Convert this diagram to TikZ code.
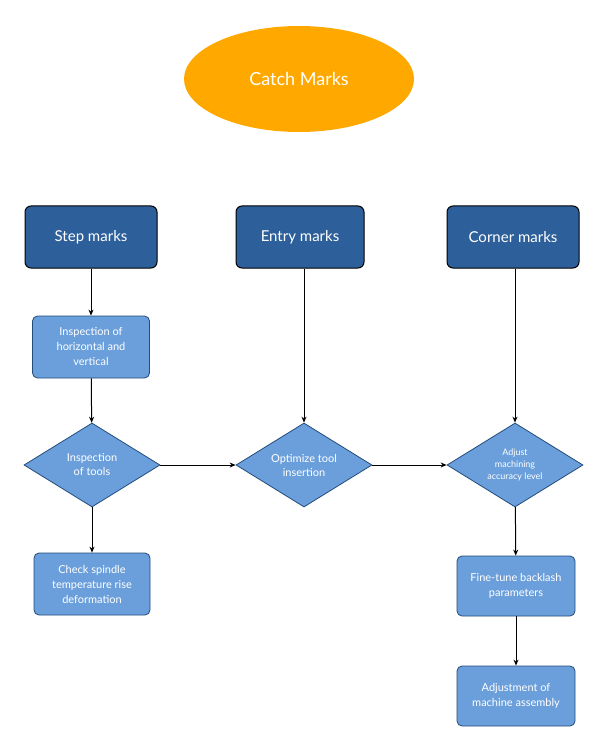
\documentclass[tikz,border=0pt]{standalone}
\usepackage{fontspec}
\setmainfont{Lato}
\usetikzlibrary{shapes.geometric,arrows.meta}
\definecolor{dk}{HTML}{2D5F9A}
\definecolor{lt}{HTML}{6A9FDC}
\definecolor{org}{HTML}{FFA800}
\begin{document}
\begin{tikzpicture}[x=1pt,y=-1pt,
 top/.style={draw=black,line width=1pt,fill=dk,rounded corners=6pt,minimum width=132pt,minimum height=62pt,text=white,font=\fontsize{15}{18}\selectfont},
 box/.style={draw=dk!80!black,line width=0.8pt,fill=lt,rounded corners=5pt,minimum width=117pt,minimum height=62pt,text=white,align=center,font=\fontsize{11}{15}\selectfont},
 dia/.style={diamond,draw=dk!80!black,line width=0.8pt,fill=lt,aspect=1.62,minimum width=136pt,minimum height=84pt,inner sep=0pt,text=white,align=center,font=\fontsize{11}{14}\selectfont},
 arr/.style={-{Stealth[length=6pt,width=5pt]},line width=1pt}]
\useasboundingbox[fill=white] (0,0) rectangle (607,751);
\node[ellipse,fill=org,minimum width=230pt,minimum height=106pt,text=white,font=\fontsize{18}{22}\selectfont] (cm) at (299,79) {Catch Marks};
\node[top] (s) at (91,237) {Step marks};
\node[top,minimum width=128pt] (e) at (300,237) {Entry marks};
\node[top] (c) at (513,237) {Corner marks};
\node[box] (i) at (91,347) {Inspection of\\horizontal and\\vertical};
\node[dia] (d1) at (92,465) {Inspection\\of tools};
\node[dia] (d2) at (304,465) {Optimize tool\\insertion};
\node[dia,font=\fontsize{9}{12}\selectfont] (d3) at (515,465) {Adjust\\machining\\accuracy level};
\node[box,minimum width=116pt] (ch) at (92,584) {Check spindle\\temperature rise\\deformation};
\node[box,minimum width=118pt,minimum height=60pt] (f) at (516,586) {Fine-tune backlash\\parameters};
\node[box,minimum width=118pt,minimum height=60pt] (a) at (516,696) {Adjustment of\\machine assembly};
\draw[arr] (s) -- (i);
\draw[arr] (i) -- (d1);
\draw[arr] (d1) -- (ch);
\draw[arr] (d1) -- (d2);
\draw[arr] (e.south -| d2.north) -- (d2);
\draw[arr] (d2) -- (d3);
\draw[arr] (c.south -| d3.north) -- (d3);
\draw[arr] (d3) -- (f);
\draw[arr] (f) -- (a);
\end{tikzpicture}
\end{document}
